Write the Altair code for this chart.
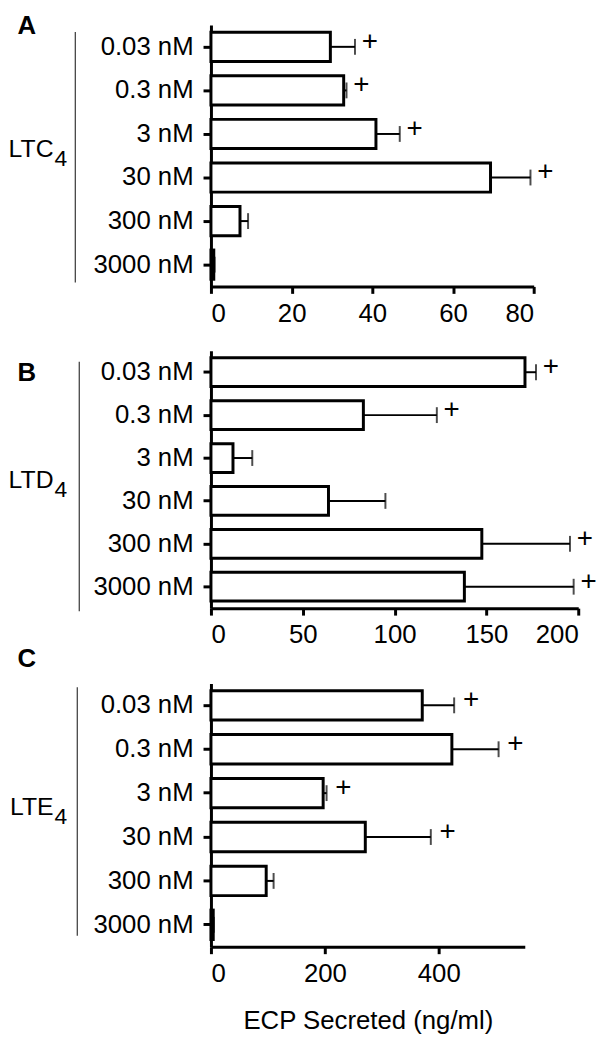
import altair as alt
import pandas as pd

conc = ["0.03 nM", "0.3 nM", "3 nM", "30 nM", "300 nM", "3000 nM"]

ltc4_mean = [29.6, 32.9, 40.9, 69.3, 7.2, 0.7]
ltc4_sem = [6.1, 0.7, 5.9, 9.9, 2.0, 0.2]
ltc4_sig = [1, 1, 1, 1, 0, 0]

ltd4_mean = [171, 83, 12, 64, 147.5, 138]
ltd4_sem = [6, 40, 10.5, 31, 48, 59.5]
ltd4_sig = [1, 1, 0, 0, 1, 1]

lte4_mean = [371, 423, 197, 271, 97, 4]
lte4_sem = [56, 82, 6, 115, 13, 1]
lte4_sig = [1, 1, 1, 1, 0, 0]

FONT = "Liberation Sans"


def panel(letter, name, mean, sem, sig, domain, ticks, w, h,
          letter_y, name_y, line_x, line_y, line_y2, title=None, plus_dx=15):
    df = pd.DataFrame({
        "conc": conc,
        "mean": mean,
        "upper": [m + s for m, s in zip(mean, sem)],
        "sig": sig,
    })
    yenc = alt.Y("conc:N", sort=conc,
                 scale=alt.Scale(paddingInner=0.33, paddingOuter=0.165),
                 axis=alt.Axis(title=None, labelPadding=10, tickSize=8))
    xscale = alt.Scale(domain=domain, nice=False)
    if title:
        xaxis = alt.Axis(values=ticks, title=title, labelPadding=7, tickSize=7,
                         titlePadding=22)
    else:
        xaxis = alt.Axis(values=ticks, title=None, labelPadding=7, tickSize=7)
    base = alt.Chart(df)
    bars = base.mark_bar(fill="white", stroke="black", strokeWidth=3).encode(
        x=alt.X("mean:Q", scale=xscale, axis=xaxis), y=yenc)
    err = base.mark_rule(strokeWidth=2, color="black").encode(
        x=alt.X("mean:Q", scale=xscale, axis=xaxis), x2="upper:Q", y=yenc)
    cap = base.mark_tick(orient="vertical", size=16, thickness=2, color="black").encode(
        x=alt.X("upper:Q", scale=xscale, axis=xaxis), y=yenc)
    plus = base.transform_filter("datum.sig == 1").mark_text(
        text="+", font=FONT, fontSize=28, color="black", align="center",
        baseline="middle", dx=plus_dx, dy=-5).encode(
        x=alt.X("upper:Q", scale=xscale, axis=xaxis), y=yenc)

    one = pd.DataFrame({"a": [0]})
    ann = alt.Chart(one)
    letter_t = ann.mark_text(text=letter, font=FONT, fontSize=26, fontWeight="bold",
                             color="black", align="center", baseline="middle").encode(
        x=alt.value(-186), y=alt.value(letter_y))
    name_t = ann.mark_text(text=name, font=FONT, fontSize=25, color="black",
                           align="right", baseline="middle").encode(
        x=alt.value(-159), y=alt.value(name_y))
    sub_t = ann.mark_text(text="4", font=FONT, fontSize=23, color="black",
                          align="left", baseline="middle").encode(
        x=alt.value(-158), y=alt.value(name_y + 10))
    vline = ann.mark_rule(color="#444444", strokeWidth=1.3).encode(
        x=alt.value(line_x), y=alt.value(line_y), y2=alt.value(line_y2))

    return alt.layer(bars, err, cap, plus, letter_t, name_t, sub_t, vline).properties(
        width=w, height=h)


pA = panel("A", "LTC", ltc4_mean, ltc4_sem, ltc4_sig, [0, 80], [0, 20, 40, 60, 80],
           326, 264, 1, 125, -137, 7, 260)
pB = panel("B", "LTD", ltd4_mean, ltd4_sem, ltd4_sig, [0, 200], [0, 50, 100, 150, 200],
           371, 260, 23, 131, -133, 11, 263)
pC = panel("C", "LTE", lte4_mean, lte4_sem, lte4_sig, [0, 551], [0, 200, 400],
           317, 266, -25, 125, -135, 4, 255, title="ECP Secreted (ng/ml)", plus_dx=17)


def spacer(hh):
    return alt.Chart(pd.DataFrame({"a": [0]})).mark_point(opacity=0).encode(
        x=alt.value(0), y=alt.value(0)).properties(width=1, height=hh)


chart = alt.vconcat(pA, spacer(65), pB, spacer(76), pC, spacing=0, bounds="flush").properties(
    padding={"left": 0, "top": 0, "right": 5, "bottom": 5}
).configure_axis(
    domainColor="black", domainWidth=3, tickColor="black", tickWidth=3,
    labelColor="black", labelFont=FONT, labelFontSize=26,
    titleFont=FONT, titleFontSize=26, titleColor="black", titleFontWeight="normal",
    grid=False
).configure_view(strokeWidth=0)

chart.save("out.html", embed_options={"renderer": "svg", "actions": False})
